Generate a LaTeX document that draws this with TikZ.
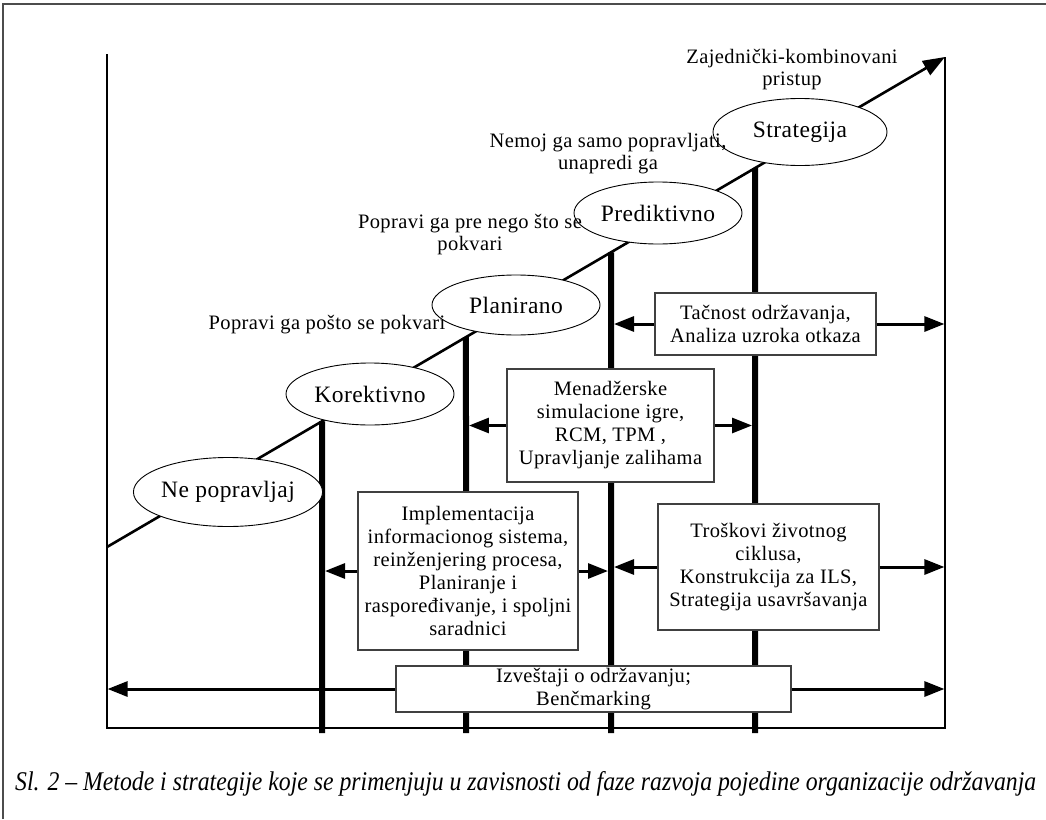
\documentclass[tikz,border=0pt]{standalone}
\usepackage{graphicx}
\usepackage{fontspec}
\setmainfont{Liberation Serif}
\newfontfamily\razfont[LetterSpace=2]{Liberation Serif}
\usetikzlibrary{calc,shapes.geometric,arrows.meta}

\begin{document}
\begin{tikzpicture}[x=1pt,y=-1pt,
    faza/.style={draw,ellipse,fill=white,line width=0.9pt,minimum width=168pt,minimum height=62pt,inner sep=0pt,font=\razfont\fontsize{23.5}{26}\selectfont},
    metod/.style={draw=black!75,fill=white,line width=1.3pt,align=center,inner sep=0pt,font=\razfont\fontsize{20.5}{23}\selectfont},
    opis/.style={align=center,inner sep=0pt,font=\razfont\fontsize{20.5}{22}\selectfont},
    stub/.style={line width=6pt},
    strel/.style={line width=3pt,-{Triangle[length=20pt,width=15pt]},shorten >=3pt}]
	\useasboundingbox (0,0) rectangle (1046,819);
	
	% okvir
	\draw[line width=2pt,black!70] (3,819) -- (3,4) -- (1046,4);
	
	% osi
	\coordinate (v) at (107,54);
	\coordinate (o) at (107,728);
	\coordinate (h) at (945,728);
	\coordinate (hv) at (945,57);
	\draw[line width=1.2pt] (v) -- (o) -- (h) -- (hv);
	
	% razvoj
	\coordinate (d0) at (107,547);
	\draw[line width=2.6pt,-{Triangle[length=22pt,width=16pt]}] (d0) -- (hv);
	\foreach \x/\n in {322/ka,466/pl,611/pr,755/st}
		\draw[stub] ($(d0)!{(\x-107)/838}!(hv)$) coordinate (\n) -- (\x,733);
	
	\node[faza,minimum width=169pt,minimum height=69pt] (nep) at (228,492) {Ne popravljaj};
	\node[faza] (kor) at (370,394) {Korektivno};
	\node[faza,minimum height=60pt] (pla) at (516,305) {Planirano};
	\node[faza] (pre) at (658,213) {Prediktivno};
	\node[faza,minimum width=174pt,minimum height=67pt] (str) at (800,132) {Strategija};
	
	\node[opis] (zaj) at (792,70) {Zajednički-kombinovani\\pristup};
	\node[opis] (nem) at (608,154) {Nemoj ga samo popravljati,\\unapredi ga};
	\node[opis] (ppn) at (470,235) {Popravi ga pre nego što se\\pokvari};
	\node[opis] (pps) at (327,325) {Popravi ga pošto se pokvari};
	
	% metode
	\node[metod,minimum width=220pt,minimum height=158pt] (impl) at (468,571) {Implementacija\\informacionog sistema,\\reinženjering procesa,\\Planiranje i\\raspoređivanje, i spoljni\\saradnici};
	\node[metod,minimum width=207pt,minimum height=113pt] (men) at (610.5,425.5) {Menadžerske\\simulacione igre,\\RCM, TPM ,\\Upravljanje zalihama};
	\node[metod,minimum width=221pt,minimum height=62pt] (tac) at (765.5,324) {Tačnost održavanja,\\Analiza uzroka otkaza};
	\node[metod,minimum width=221pt,minimum height=126pt] (tro) at (768.5,567) {Troškovi životnog\\ciklusa,\\Konstrukcija za ILS,\\Strategija usavršavanja};
	\node[metod,minimum width=395pt,minimum height=46pt] (izv) at (593.5,689) {Izveštaji o održavanju;\\Benčmarking};
	
	\draw[strel] (impl.west) -- (impl.west -| ka);
	\draw[strel] (impl.east) -- (impl.east -| pr);
	\draw[strel] (tro.west) -- (tro.west -| pr);
	\draw[strel,shorten >=0.6pt] (tro.east) -- (tro.east -| hv);
	\draw[strel] (men.west) -- (men.west -| pl);
	\draw[strel] (men.east) -- (men.east -| st);
	\draw[strel] (tac.west) -- (tac.west -| pr);
	\draw[strel,shorten >=0.6pt] (tac.east) -- (tac.east -| hv);
	\draw[strel,shorten >=0.6pt] (izv.west) -- (izv.west -| v);
	\draw[strel,shorten >=0.6pt] (izv.east) -- (izv.east -| hv);
	
	\node[anchor=base west,inner sep=0pt,font=\itshape\fontsize{27}{30}\selectfont] (sl) at (15,790) {\resizebox{1021pt}{\height}{Sl. 2 – Metode i strategije koje se primenjuju u zavisnosti od faze razvoja pojedine organizacije održavanja}};
\end{tikzpicture}
\end{document}
